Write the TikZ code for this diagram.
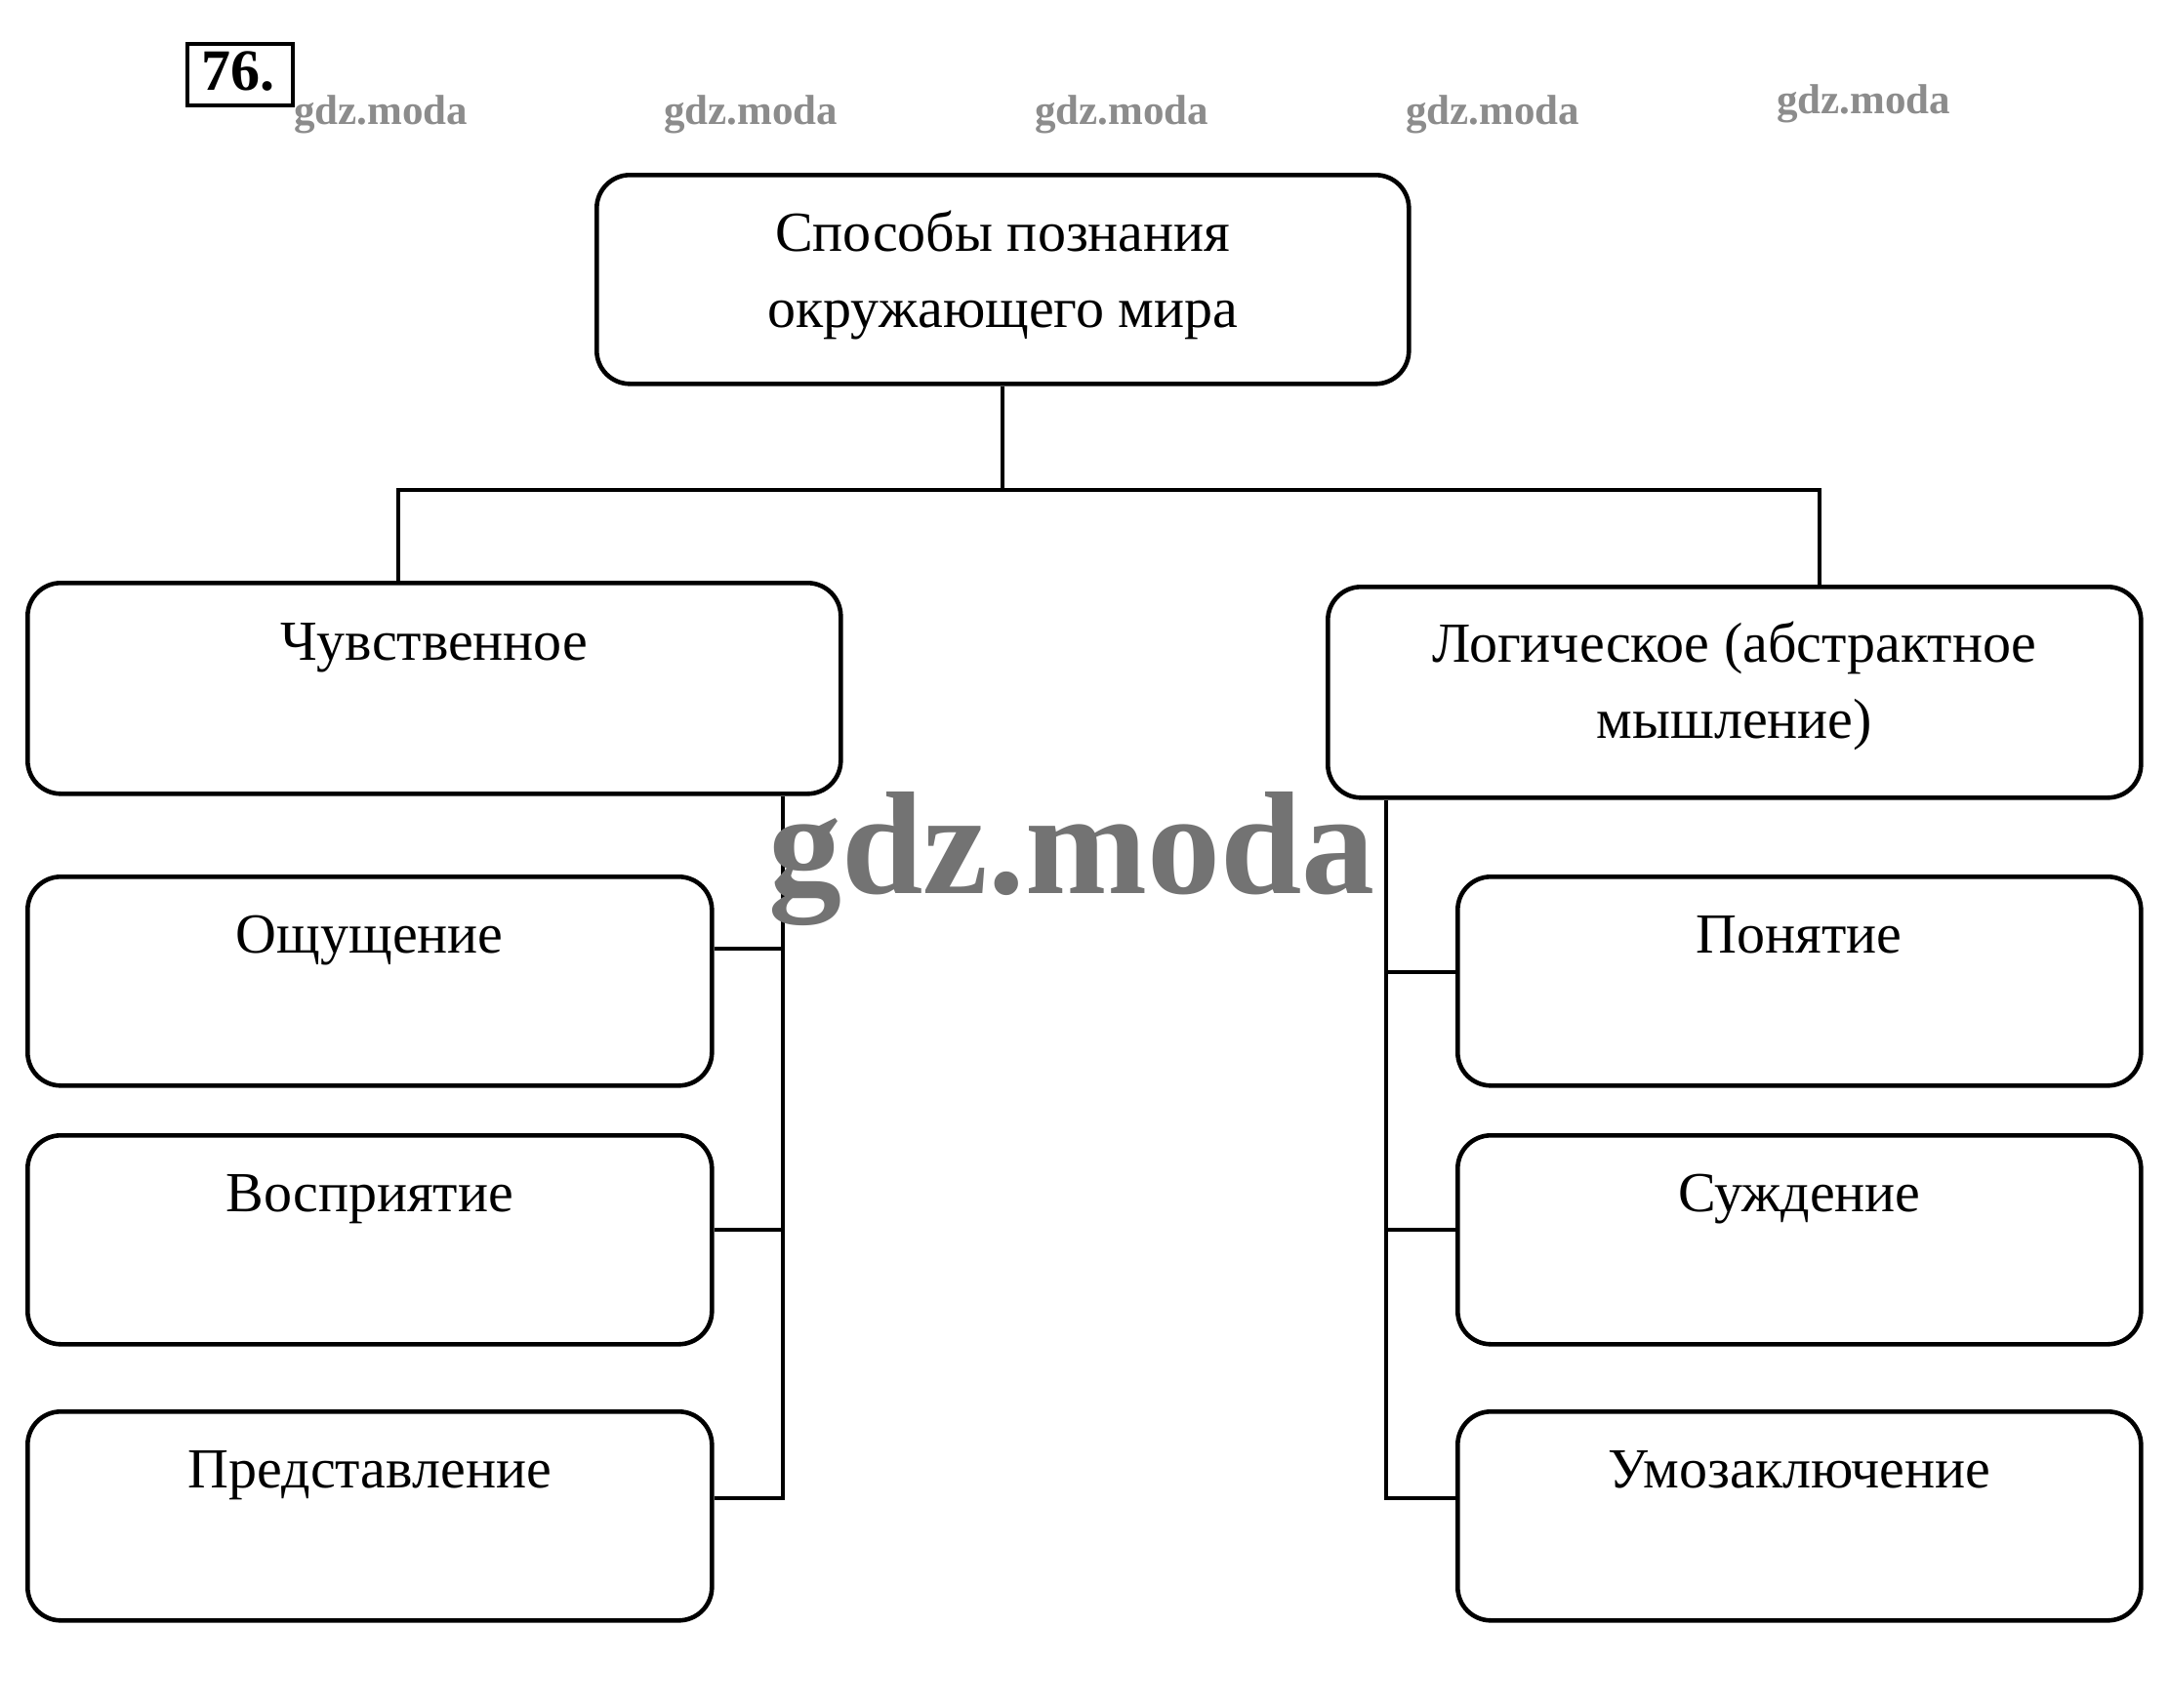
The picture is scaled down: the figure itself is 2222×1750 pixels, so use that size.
\documentclass[tikz,border=0pt]{standalone}
\usepackage{fontspec}
\setmainfont{Liberation Serif}
\usetikzlibrary{calc}
\tikzset{
  box/.style={draw, line width=4.6pt, rounded corners=34pt, inner sep=0pt, anchor=north west},
  btext/.style={font=\fontsize{58}{78}\selectfont, align=center, inner sep=0pt},
  link/.style={line width=3.8pt},
  wm/.style={font=\bfseries\fontsize{43}{43}\selectfont, text=black!45, inner sep=0pt},
  bigwm/.style={font=\bfseries\fontsize{150}{150}\selectfont, text=black!55, inner sep=0pt},
}
\begin{document}
\begin{tikzpicture}[x=1pt,y=-1pt]
\useasboundingbox[fill=white] (0,0) rectangle (2222,1750);

% number
\node[draw, line width=4pt, minimum width=108pt, minimum height=63pt, anchor=north west, inner sep=0pt] (num) at (190,43) {};
\node[font=\bfseries\fontsize{60}{60}\selectfont, inner sep=0pt, anchor=base] (numt) at (244,93) {76.};

% watermarks
\node[wm] (w1) at (390,117) {gdz.moda};
\node[wm] (w2) at (769,117) {gdz.moda};
\node[wm] (w3) at (1149,117) {gdz.moda};
\node[wm] (w4) at (1529,117) {gdz.moda};
\node[wm] (w5) at (1909,106) {gdz.moda};

% boxes
\node[box, minimum width=832pt, minimum height=214pt] (top) at (609,177) {};
\node[box, minimum width=833pt, minimum height=216pt] (L) at (26,595) {};
\node[box, minimum width=833pt, minimum height=216pt] (R) at (1358,599) {};
\node[box, minimum width=701pt, minimum height=214pt] (L1) at (26,896) {};
\node[box, minimum width=701pt, minimum height=214pt] (L2) at (26,1161) {};
\node[box, minimum width=701pt, minimum height=214pt] (L3) at (26,1444) {};
\node[box, minimum width=700pt, minimum height=214pt] (R1) at (1491,896) {};
\node[box, minimum width=700pt, minimum height=214pt] (R2) at (1491,1161) {};
\node[box, minimum width=700pt, minimum height=214pt] (R3) at (1491,1444) {};

% texts
\node[btext, anchor=base] (topt) at ([yshift=-158pt]top.north) {Способы познания\\окружающего мира};
\node[btext, anchor=base] (Lt) at ([yshift=-81pt]L.north) {Чувственное};
\node[btext, anchor=base] (Rt) at ([yshift=-157pt]R.north) {Логическое (абстрактное\\мышление)};
\node[btext, anchor=base] (L1t) at ([yshift=-80pt]L1.north) {Ощущение};
\node[btext, anchor=base] (L2t) at ([yshift=-80pt]L2.north) {Восприятие};
\node[btext, anchor=base] (L3t) at ([yshift=-80pt]L3.north) {Представление};
\node[btext, anchor=base] (R1t) at ([yshift=-80pt]R1.north) {Понятие};
\node[btext, anchor=base] (R2t) at ([yshift=-80pt]R2.north) {Суждение};
\node[btext, anchor=base] (R3t) at ([yshift=-80pt]R3.north) {Умозаключение};

% junction coordinates
\coordinate (hj) at (1027,502);
\coordinate (lj) at (408,502);
\coordinate (rj) at (1864,502);
\coordinate (lb) at (802,1535);
\coordinate (rb) at (1420,1535);

% connectors
\draw[link] (top.south -| hj) -- (hj);
\draw[link] (L.north -| lj) -- (lj) -- (rj) -- (R.north -| rj);
\draw[link] (L.south -| lb) -- (lb) -- (L3.east |- lb);
\draw[link] (L1.east |- 0,972) -- (lb |- 0,972);
\draw[link] (L2.east |- 0,1260) -- (lb |- 0,1260);
\draw[link] (R.south -| rb) -- (rb) -- (R3.west |- rb);
\draw[link] (R1.west |- 0,996) -- (rb |- 0,996);
\draw[link] (R2.west |- 0,1260) -- (rb |- 0,1260);

% large watermark
\node[bigwm] (w6) at (1098,880) {gdz.moda};
\end{tikzpicture}
\end{document}
